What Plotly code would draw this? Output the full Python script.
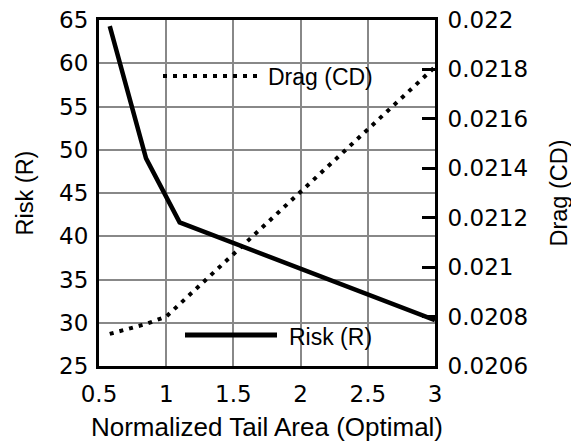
import plotly.graph_objects as go

# ---- data ----
risk_x = [0.58, 0.85, 1.1, 3.0]
risk_y = [64.3, 49.0, 41.6, 30.3]

drag_x = [0.58, 0.85, 1.0, 3.0]
drag_y = [0.02073, 0.02077, 0.02080, 0.02181]

x_ticks = [0.5, 1, 1.5, 2, 2.5, 3]
risk_ticks = [25, 30, 35, 40, 45, 50, 55, 60, 65]
drag_ticks = [0.0206, 0.0208, 0.021, 0.0212, 0.0214, 0.0216, 0.0218, 0.022]
drag_tick_text = ["0.0206", "0.0208", "0.021", "0.0212", "0.0214", "0.0216", "0.0218", "0.022"]

# page has an 8px body margin: figure is offset by (8, 8)
OFF = 8
W, H = 579 - OFF, 442 - OFF
L, R, T, B = 99, 435, 20, 366  # plot area in page pixels
TFONT = "Liberation Sans, Arial, sans-serif"
KFONT = "DejaVu Sans, sans-serif"
KFS = 23


def px(xp):
    return (xp - L) / (R - L)


def py(yp):
    return (B - yp) / (B - T)


fig = go.Figure()
fig.add_trace(go.Scatter(x=risk_x, y=risk_y, mode="lines", name="Risk (R)",
                         line=dict(color="black", width=4.5), yaxis="y",
                         showlegend=False))
fig.add_trace(go.Scatter(x=drag_x, y=drag_y, mode="lines", name="Drag (CD)",
                         line=dict(color="black", width=4, dash="4px,6px"),
                         yaxis="y2", showlegend=False))

shapes = []
annotations = []
# legend boxes (white, cover gridlines)
for (x0, x1, y0, y1) in [(147, 390, 49, 105), (168, 393, 308, 363)]:
    shapes.append(dict(type="rect", xref="paper", yref="paper",
                       x0=px(x0), x1=px(x1), y0=py(y1), y1=py(y0),
                       fillcolor="white", line=dict(width=0), layer="between"))
# legend samples
shapes.append(dict(type="line", xref="paper", yref="paper",
                   x0=px(163), x1=px(258), y0=py(76), y1=py(76),
                   line=dict(color="black", width=4, dash="4px,6px")))
shapes.append(dict(type="line", xref="paper", yref="paper",
                   x0=px(185), x1=px(277), y0=py(335), y1=py(335),
                   line=dict(color="black", width=5)))
annotations.append(dict(xref="paper", yref="paper", x=px(266), y=py(77),
                        text="Drag (CD)", showarrow=False, xanchor="left",
                        yanchor="middle", font=dict(family=TFONT, size=23, color="black")))
annotations.append(dict(xref="paper", yref="paper", x=px(287), y=py(337),
                        text="Risk (R)", showarrow=False, xanchor="left",
                        yanchor="middle", font=dict(family=TFONT, size=23, color="black")))

fig.update_layout(
    width=W, height=H,
    margin=dict(l=L - OFF, r=579 - R, t=T - OFF, b=442 - B, pad=0),
    paper_bgcolor="white", plot_bgcolor="white",
    font=dict(family=KFONT, size=KFS, color="black"),
    showlegend=False,
    xaxis=dict(range=[0.5, 3], tickvals=x_ticks, ticktext=[str(v) for v in x_ticks],
               showgrid=True, gridcolor="#888888", gridwidth=2,
               zeroline=False, showline=True, linecolor="black", linewidth=3,
               mirror=True, ticks="", ticklabelstandoff=5, automargin=False,
               ticklabeloverflow="allow",
               tickfont=dict(family=KFONT, size=KFS),
               title=dict(text="Normalized Tail Area (Optimal)", standoff=17,
                          font=dict(family=TFONT, size=26))),
    yaxis=dict(range=[25, 65], tickvals=risk_ticks,
               showgrid=True, gridcolor="#888888", gridwidth=2,
               zeroline=False, showline=True, linecolor="black", linewidth=3,
               ticks="", ticklabelstandoff=3, automargin=False,
               ticklabeloverflow="allow",
               tickfont=dict(family=KFONT, size=KFS),
               title=dict(text="Risk (R)", standoff=19,
                          font=dict(family=TFONT, size=23.5))),
    yaxis2=dict(range=[0.0206, 0.022], tickvals=drag_ticks, ticktext=drag_tick_text,
                overlaying="y", side="right", showgrid=False, zeroline=False,
                showline=True, linecolor="black", linewidth=3,
                ticks="inside", ticklen=13, tickwidth=2.5, tickcolor="black",
                ticklabelstandoff=5, automargin=False,
                ticklabeloverflow="allow",
                tickfont=dict(family=KFONT, size=KFS),
                title=dict(text="Drag (CD)", standoff=24,
                           font=dict(family=TFONT, size=23.5))),
    shapes=shapes,
    annotations=annotations,
)

fig.write_html("out.html")
